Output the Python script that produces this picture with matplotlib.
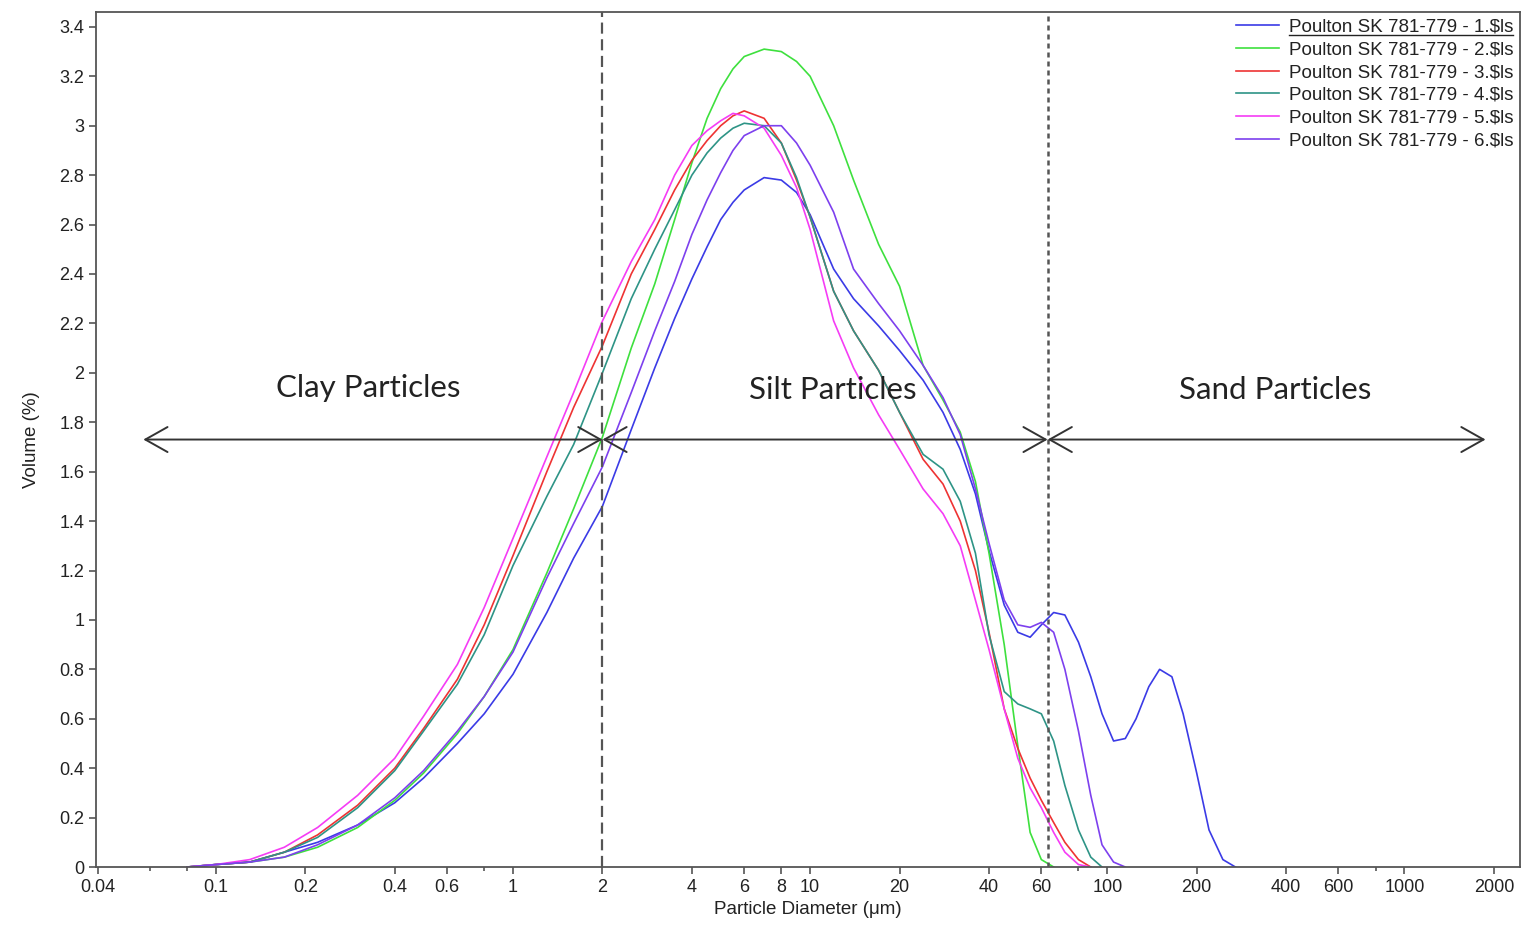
import numpy as np
import matplotlib
matplotlib.use('Agg')
import matplotlib.pyplot as plt
from matplotlib.ticker import NullFormatter, FixedLocator
from matplotlib.lines import Line2D

plt.rcParams['font.family'] = ['Liberation Sans', 'DejaVu Sans']

# size classes (um); each series uses the first len(values) classes
sizes = [0.08, 0.1, 0.13, 0.17, 0.22, 0.3, 0.4, 0.5, 0.65, 0.8,
         1, 1.3, 1.6, 2, 2.5, 3, 3.5, 4, 4.5, 5, 5.5, 6,
         7, 8, 9, 10, 12, 14, 17, 20, 24, 28,
         32, 36, 40, 45, 50, 55, 60, 66, 72, 80,
         88, 96, 105, 115, 125, 138, 150, 165, 180, 200,
         220, 245, 270]

s1 = [0.0, 0.01, 0.02, 0.06, 0.10, 0.17, 0.26, 0.36, 0.50, 0.62,
      0.78, 1.03, 1.25, 1.46, 1.77, 2.02, 2.22, 2.38, 2.51, 2.62, 2.69, 2.74,
      2.79, 2.78, 2.73, 2.64, 2.42, 2.30, 2.19, 2.09, 1.97, 1.84,
      1.69, 1.51, 1.28, 1.06, 0.95, 0.93, 0.98, 1.03, 1.02, 0.91,
      0.77, 0.62, 0.51, 0.52, 0.60, 0.73, 0.80, 0.77, 0.62, 0.38,
      0.15, 0.03, 0.0]
s2 = [0.0, 0.01, 0.02, 0.04, 0.08, 0.16, 0.27, 0.38, 0.54, 0.69,
      0.88, 1.19, 1.45, 1.74, 2.10, 2.36, 2.62, 2.85, 3.03, 3.15, 3.23, 3.28,
      3.31, 3.30, 3.26, 3.20, 3.00, 2.78, 2.52, 2.35, 2.03, 1.89,
      1.76, 1.56, 1.27, 0.90, 0.49, 0.14, 0.03, 0.0]
s3 = [0.0, 0.01, 0.02, 0.06, 0.13, 0.25, 0.40, 0.56, 0.76, 0.98,
      1.26, 1.60, 1.86, 2.11, 2.40, 2.58, 2.74, 2.86, 2.94, 3.00, 3.04, 3.06,
      3.03, 2.93, 2.78, 2.63, 2.33, 2.17, 2.01, 1.84, 1.65, 1.55,
      1.40, 1.20, 0.95, 0.64, 0.48, 0.36, 0.27, 0.18, 0.10, 0.03,
      0.0]
s4 = [0.0, 0.01, 0.02, 0.06, 0.12, 0.24, 0.39, 0.55, 0.74, 0.94,
      1.22, 1.50, 1.71, 2.00, 2.30, 2.50, 2.66, 2.80, 2.89, 2.95, 2.99, 3.01,
      3.00, 2.93, 2.79, 2.63, 2.33, 2.17, 2.01, 1.84, 1.67, 1.61,
      1.48, 1.27, 0.94, 0.71, 0.66, 0.64, 0.62, 0.51, 0.33, 0.15,
      0.04, 0.0]
s5 = [0.0, 0.01, 0.03, 0.08, 0.16, 0.29, 0.44, 0.61, 0.82, 1.05,
      1.33, 1.66, 1.92, 2.21, 2.45, 2.62, 2.80, 2.92, 2.98, 3.02, 3.05, 3.04,
      2.99, 2.88, 2.75, 2.58, 2.21, 2.02, 1.83, 1.69, 1.53, 1.43,
      1.30, 1.08, 0.88, 0.64, 0.44, 0.32, 0.24, 0.14, 0.06, 0.01,
      0.0]
s6 = [0.0, 0.01, 0.02, 0.04, 0.09, 0.17, 0.28, 0.39, 0.55, 0.69,
      0.87, 1.17, 1.39, 1.62, 1.92, 2.17, 2.37, 2.56, 2.70, 2.81, 2.90, 2.96,
      3.00, 3.00, 2.93, 2.84, 2.65, 2.42, 2.28, 2.17, 2.03, 1.90,
      1.75, 1.53, 1.31, 1.08, 0.98, 0.97, 0.99, 0.95, 0.80, 0.55,
      0.29, 0.09, 0.02, 0.0]

series = [s1, s2, s3, s4, s5, s6]
labels = ['Poulton SK 781-779 - %d.$ls' % i for i in range(1, 7)]
colors = ['#3b3be6', '#3ee03e', '#ee3333', '#2e9486', '#f53cf5', '#7d40ee']

xticks = [0.04, 0.1, 0.2, 0.4, 0.6, 1, 2, 4, 6, 8, 10, 20, 40, 60,
          100, 200, 400, 600, 1000, 2000]
xticklabels = ['0.04', '0.1', '0.2', '0.4', '0.6', '1', '2', '4', '6', '8', '10',
               '20', '40', '60', '100', '200', '400', '600', '1000', '2000']
xminor = [0.06, 0.08, 0.8, 80, 800]

clay_silt = 2
silt_sand = 63
arrow_y = 1.73

fig = plt.figure(figsize=(15.26, 9.27), dpi=100)
ax = fig.add_axes([0.0629, 0.0647, 0.9332, 0.9223])

for vals, lab, c in zip(series, labels, colors):
    ax.plot(sizes[:len(vals)], vals, color=c, lw=1.2, label=lab)

ax.set_xscale('log')
ax.set_xlim(0.0395, 2450)
ax.set_ylim(0, 3.46)

ax.xaxis.set_major_locator(FixedLocator(xticks))
ax.set_xticklabels(xticklabels)
ax.xaxis.set_minor_locator(FixedLocator(xminor))
ax.xaxis.set_minor_formatter(NullFormatter())
yt = np.round(np.arange(0, 3.41, 0.2), 1)
ax.set_yticks(yt)
ax.set_yticklabels(['%g' % v for v in yt])

ax.tick_params(axis='both', which='major', labelsize=13, length=5, width=1.2,
               color='#555555', labelcolor='#222222')
ax.tick_params(axis='x', which='minor', length=3, width=1.2, color='#555555')
for sp in ax.spines.values():
    sp.set_color('#555555')
    sp.set_linewidth(1.3)

ax.set_xlabel('Particle Diameter (μm)', fontsize=13.5, color='#222222', labelpad=4)
ax.set_ylabel('Volume (%)', fontsize=13.5, color='#222222', labelpad=14)

# boundaries
ax.axvline(clay_silt, color='#555555', lw=1.6, dashes=(5, 2.5))
ax.axvline(silt_sand, color='#555555', lw=1.8, dashes=(2, 1.6))

# double arrows
spans = [(0.057, clay_silt), (clay_silt, silt_sand), (silt_sand, 1875)]
for a, b in spans:
    ax.annotate('', xy=(b, arrow_y), xytext=(a, arrow_y),
                arrowprops=dict(arrowstyle='<->,head_length=0.8,head_width=0.45',
                                mutation_scale=20, color='#333333', lw=1.4,
                                shrinkA=0, shrinkB=0))

tfont = dict(family=['Lato', 'DejaVu Sans'], fontsize=22.5, color='#222222',
             ha='center', va='center')
ax.text(0.325, 1.94, 'Clay Particles', **tfont)
ax.text(11.9, 1.93, 'Silt Particles', **tfont)
ax.text(368, 1.93, 'Sand Particles', **tfont)

leg = ax.legend(loc='upper right', frameon=False, fontsize=13.5, handlelength=2.3,
                handletextpad=0.55, labelspacing=0.3, borderaxespad=0.1,
                borderpad=0.25)
for t in leg.get_texts():
    t.set_color('#222222')

# underline on first legend entry
fig.canvas.draw()
bb = leg.get_texts()[0].get_window_extent().transformed(fig.transFigure.inverted())
fig.add_artist(Line2D([bb.x0, bb.x1], [bb.y0 + 0.001, bb.y0 + 0.001],
                      transform=fig.transFigure, color='#222222', lw=1))

fig.savefig('out.png', dpi=100)
